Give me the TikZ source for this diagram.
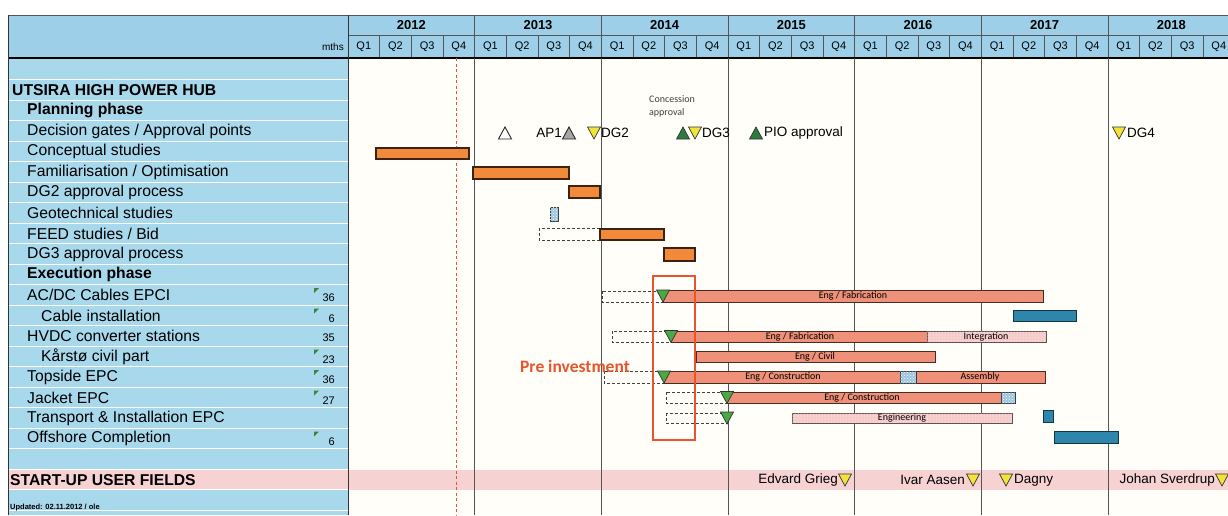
\documentclass[tikz,border=0pt]{standalone}
\usepackage{fontspec}
\setmainfont{Liberation Sans}
\newfontfamily\calib{Carlito}
\usetikzlibrary{patterns}
\definecolor{leftblue}{HTML}{A8D8EC}
\definecolor{hdrblue}{HTML}{9DD0E8}
\definecolor{chartbg}{HTML}{FFFEF8}
\definecolor{orangebar}{HTML}{F28A3C}
\definecolor{salmonbar}{HTML}{EF9078}
\definecolor{pinkdot}{HTML}{F7CACA}
\definecolor{bluebar}{HTML}{2F86AD}
\definecolor{hatchblue}{HTML}{9CC4DE}
\definecolor{greentri}{HTML}{4AA845}
\definecolor{darkgreen}{HTML}{2A7D3C}
\definecolor{yellowtri}{HTML}{F2E33A}
\definecolor{redbox}{HTML}{E8552C}
\definecolor{pinkband}{HTML}{F7D2D2}
\definecolor{gridline}{HTML}{555555}
\newcommand\tridn[3]{\filldraw[#3] ({#1-6.5},{#2-6}) -- ({#1+6.5},{#2-6}) -- (#1,{#2+6}) -- cycle;}
\newcommand\triup[3]{\filldraw[#3] ({#1-6.5},{#2+6}) -- ({#1+6.5},{#2+6}) -- (#1,{#2-6}) -- cycle;}
\newcommand\cmark[1]{\fill[greentri!80!black] (314,{#1-7}) -- (319,{#1-7}) -- (314,{#1-2}) -- cycle;}
\begin{document}
\begin{tikzpicture}[x=1pt,y=-1pt,
  lbl/.style={anchor=west,inner sep=0pt,font=\fontsize{15.7}{17}\selectfont},
  blbl/.style={lbl,font=\fontsize{15.7}{17}\selectfont\bfseries},
  numlbl/.style={anchor=east,inner sep=0pt,font=\fontsize{11}{13}\selectfont},
  yeartxt/.style={inner sep=0pt,font=\fontsize{13}{15}\selectfont\bfseries},
  qtxt/.style={inner sep=0pt,font=\fontsize{11}{13}\selectfont},
  msl/.style={inner sep=0pt,anchor=west,font=\fontsize{13.5}{15}\selectfont},
  barlbl/.style={inner sep=0pt,font=\calib\fontsize{10}{11}\selectfont},
  obar/.style={draw=black!75!orangebar,fill=orangebar,line width=1.2pt},
  sbar/.style={draw=black!70!salmonbar,fill=salmonbar,line width=1pt},
  pbar/.style={draw=black!60!pinkdot,fill=pinkdot,line width=0.8pt,postaction={pattern=dots,pattern color=white}},
  bbar/.style={draw=black!60!bluebar,fill=bluebar,line width=1pt},
  hbar/.style={draw=black!70!hatchblue,fill=hatchblue,line width=0.9pt,postaction={pattern=crosshatch dots,pattern color=white}},
  dbox/.style={draw=black!75,dashed,dash pattern=on 3pt off 2pt,line width=0.8pt},
  gtri/.style={fill=greentri,draw=black!80,line width=0.7pt},
  dgtri/.style={fill=darkgreen,draw=black!80,line width=0.7pt},
  ytri/.style={fill=yellowtri,draw=black!80,line width=0.7pt},
  wtri/.style={fill=white,draw=black!85,line width=0.9pt},
  gytri/.style={fill=gray!70,draw=black!85,line width=0.9pt},
  yrline/.style={draw=gridline,line width=0.9pt}]
\useasboundingbox (0,0) rectangle (1228,515);
\clip (0,0) rectangle (1228,515);
\fill[white] (0,0) rectangle (1228,515);
\fill[chartbg] (348,58) rectangle (1228,515);
% left column
\fill[leftblue] (8,58) rectangle (348,515);
\fill[pinkband] (8,470) rectangle (1228,490);
\foreach \k in {0,...,21} \draw[white,line width=0.8pt] (8,{79.75+20.5*\k}) -- (348,{79.75+20.5*\k});
% header
\fill[hdrblue] (8,15) rectangle (1228,57);
\draw[gridline,line width=0.8pt] (8,15) -- (1228,15);
\draw[gridline,line width=0.8pt] (348,35) -- (1228,35);
\foreach \yr [count=\k from 0] in {2012,2013,2014,2015,2016,2017,2018} {
  \pgfmathsetmacro\xa{348+126.667*\k}
  \node[yeartxt] (y\yr) at ({\xa+63.33},25.5) {\yr};
  \draw[gridline,line width=0.9pt] (\xa,15) -- (\xa,57);
  \foreach \q in {1,2,3,4} {
    \pgfmathsetmacro\xq{\xa+31.667*(\q-1)}
    \draw[gridline,line width=0.7pt] (\xq,35) -- (\xq,57);
    \node[qtxt] (q\yr\q) at ({\xq+15.8},46.5) {Q\q};
  }
}
\node[inner sep=0pt,anchor=east,font=\fontsize{10}{12}\selectfont] (mths) at (344,46.5) {mths};
\draw[black,line width=1.6pt] (8,58) -- (1228,58);
\draw[black!80,line width=1pt] (8,15) -- (8,515);
\draw[black!80,line width=1pt] (348,15) -- (348,515);
% chart grid
\foreach \k in {1,...,6} \draw[yrline] ({348+126.667*\k},58) -- ({348+126.667*\k},515);
\draw[redbox,line width=1pt,dash pattern=on 3pt off 2.5pt] (456,58) -- (456,515);
% left labels
\node[blbl] (utsira) at (12,90) {UTSIRA HIGH POWER HUB};
\node[blbl] (plan) at (27,110.5) {Planning phase};
\node[lbl] (dg) at (27,131) {Decision gates / Approval points};
\node[lbl] (concept) at (27,151.5) {Conceptual studies};
\node[lbl] (famil) at (27,172) {Familiarisation / Optimisation};
\node[lbl] (dg2p) at (27,192.5) {DG2 approval process};
\node[lbl] (geo) at (27,213) {Geotechnical studies};
\node[lbl] (feed) at (27,233.5) {FEED studies / Bid};
\node[lbl] (dg3p) at (27,254) {DG3 approval process};
\node[blbl] (exec) at (27,274.5) {Execution phase};
\node[lbl] (acdc) at (27,295) {AC/DC Cables EPCI};
\node[lbl] (cable) at (41,315.5) {Cable installation};
\node[lbl] (hvdc) at (27,336) {HVDC converter stations};
\node[lbl] (karsto) at (41,356.5) {Kårstø civil part};
\node[lbl] (top) at (27,377) {Topside EPC};
\node[lbl] (jack) at (27,397.5) {Jacket EPC};
\node[lbl] (trans) at (27,418) {Transport \& Installation EPC};
\node[lbl] (off) at (27,438.5) {Offshore Completion};
\node[blbl] (startup) at (10,480) {START-UP USER FIELDS};
\node[inner sep=0pt,anchor=west,font=\fontsize{7.5}{8}\selectfont\bfseries] (upd) at (10,508) {Updated: 02.11.2012 / ole};
% numbers
\node[numlbl] (n1) at (335,298) {36};
\node[numlbl] (n2) at (335,318.5) {6};
\node[numlbl] (n3) at (335,338) {35};
\node[numlbl] (n4) at (335,359.5) {23};
\node[numlbl] (n5) at (335,380) {36};
\node[numlbl] (n6) at (335,400.5) {27};
\node[numlbl] (n7) at (335,441.5) {6};
\cmark{295}\cmark{315.5}\cmark{356.5}\cmark{377}\cmark{397.5}\cmark{438.5}
% planning bars
\draw[obar] (376,148) rectangle (469,159);
\draw[obar] (473,167) rectangle (569,179);
\draw[obar] (569,186) rectangle (600,198);
\draw[hbar] (550,207) rectangle (558,221);
\draw[dbox] (539,228) rectangle (600,240);
\draw[obar] (600,229) rectangle (664,240);
\draw[obar] (664,248) rectangle (695,261);
% decision gates
\node[inner sep=0pt,anchor=west,align=left,text=black!75,font=\calib\fontsize{10}{13}\selectfont] (conc) at (649,106) {Concession\\approval};
\triup{505}{133}{wtri}
\node[msl,anchor=east] (ap1) at (562,133) {AP1};
\triup{569}{133}{gytri}
\tridn{594}{133}{ytri}
\node[msl] (dg2) at (601,133) {DG2};
\triup{683}{133}{dgtri}
\tridn{695}{133}{ytri}
\node[msl] (dg3) at (702,133) {DG3};
\triup{756}{133}{dgtri}
\node[msl] (pio) at (764,133) {PIO approval};
\tridn{1119}{133}{ytri}
\node[msl] (dg4) at (1127,133) {DG4};
% execution bars
\draw[dbox] (602,291) rectangle (663,302);
\draw[sbar] (663,290) rectangle (1043,302);
\node[barlbl] (l1) at (853,296) {Eng / Fabrication};
\tridn{663}{296}{gtri}
\draw[bbar] (1013,310) rectangle (1076,321);
\draw[dbox] (612,331) rectangle (671,342);
\draw[sbar] (671,331) rectangle (927,342);
\draw[pbar] (927,331) rectangle (1046,342);
\node[barlbl] (l2) at (800,336.5) {Eng / Fabrication};
\node[barlbl] (l3) at (986,336.5) {Integration};
\tridn{671}{336.5}{gtri}
\draw[sbar] (696,351) rectangle (935,362);
\node[barlbl] (l4) at (815,356.5) {Eng / Civil};
\draw[dbox] (604,371) rectangle (664,383);
\draw[sbar] (664,371) rectangle (1045,383);
\draw[hbar] (900,371) rectangle (916,383);
\node[barlbl] (l5) at (783,377) {Eng / Construction};
\node[barlbl] (l6) at (980,377) {Assembly};
\tridn{664}{377}{gtri}
\draw[dbox] (666,392) rectangle (727,403);
\draw[sbar] (727,392) rectangle (1001,403);
\draw[hbar] (1001,392) rectangle (1015,403);
\node[barlbl] (l7) at (862,397.5) {Eng / Construction};
\tridn{727}{397.5}{gtri}
\draw[dbox] (666,413) rectangle (727,423);
\draw[pbar] (792,413) rectangle (1012,423);
\node[barlbl] (l8) at (902,418) {Engineering};
\tridn{727}{418}{gtri}
\draw[bbar] (1043,410) rectangle (1053,422);
\draw[bbar] (1054,431) rectangle (1118,443);
% pre investment
\draw[redbox,line width=2.4pt] (653,276) rectangle (695,440);
\node[inner sep=0pt,text=redbox,font=\calib\bfseries\fontsize{17.5}{19}\selectfont] (pre) at (575,366) {Pre investment};
% start-up fields
\node[msl,anchor=east] (eg) at (838,480) {Edvard Grieg};
\tridn{845}{480}{ytri}
\node[msl,anchor=east] (ia) at (965,480) {Ivar Aasen};
\tridn{973}{480}{ytri}
\tridn{1006}{480}{ytri}
\node[msl] (dag) at (1014,480) {Dagny};
\node[msl,anchor=east] (js) at (1215,480) {Johan Sverdrup};
\tridn{1222}{480}{ytri}
\end{tikzpicture}
\end{document}
